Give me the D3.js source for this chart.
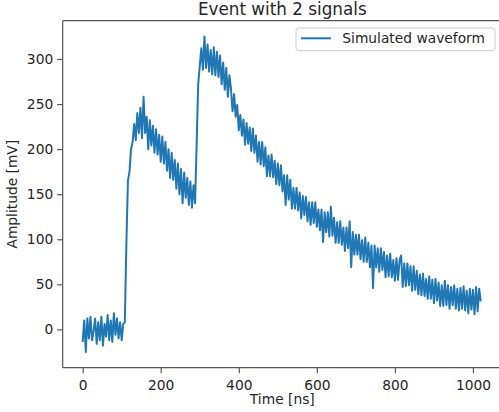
<!DOCTYPE html>
<html>
  <head>
    <title>Event with 2 signals</title>
    <meta charset="utf-8">
    <style>
      body { margin: 0; background: white; }
      svg text { font-family: "DejaVu Sans", sans-serif; fill: #262626; }
      .axis path, .axis line { stroke: #555; stroke-width: 1.2; }
      .axis text { font-size: 13.8px; }
    </style>
  </head>
  <body>
  <svg id="chart"></svg>
  <script src="https://d3js.org/d3.v7.min.js"></script>
  <script>
    // sampling step of the waveform (ns)
    var step = 4;

    // amplitude in mV, one value every 4 ns starting at t = 0
    var baseline = [-14, 10, -25, 12, -10, 14, -12, -2, 12, -16, 8, -12, 14, -18, 6, -8,
      16, -12, 10, -14, 18, -6, 12, -10, 8, -12, 6];
    var firstPulse = [8, 95, 165, 175, 200, 208, 228, 210, 240, 218, 246, 212, 258, 218,
      236, 200, 232, 204, 226, 196, 222, 194, 216, 186, 214, 184, 208, 176, 200, 168,
      196, 166, 188, 156, 184, 150, 178, 140, 174, 146, 168, 138, 164, 135, 160, 140];
    var secondPulse = [205, 272, 292, 312, 288, 325, 290, 316, 286, 310, 283, 313, 282,
      308, 280, 304, 272, 296, 266, 290, 258, 282,
      267, 242, 261, 236, 249, 221, 238, 215, 233, 205, 229, 206, 224, 198, 223, 196,
      215, 186, 208, 183, 208, 181, 202, 170, 193, 170, 194, 169, 187, 161, 184, 160,
      182, 153, 171, 138, 171, 144, 166, 134, 157, 134, 157, 132, 152, 123, 148, 127,
      147, 120, 141, 116, 141, 118, 141, 114, 133, 110, 133, 97, 130, 108, 130, 103,
      136, 104, 124, 96, 119, 96, 120, 94, 113, 87, 113, 90, 120, 69, 108, 83, 105, 83,
      105, 78, 99, 75, 102, 75, 96, 69, 93, 46, 93, 69, 90, 64, 90, 66, 86, 58, 82, 59,
      84, 58, 77, 54, 79, 55, 77, 82, 47, 73, 48, 73, 49, 70, 43, 70, 44, 65, 39, 61,
      38, 62, 37, 56, 34, 59, 34, 55, 29, 56, 32, 52, 26, 49, 26, 54, 27, 49, 23, 47,
      27, 49, 23, 45, 21, 46, 23, 48, 21, 43, 18, 45, 22, 44, 17, 47, 20, 45, 31];

    var amplitude = baseline.concat(firstPulse, secondPulse);
    var data = amplitude.map(function(v, i) { return [i * step, v]; });

    var xTicks = [0, 200, 400, 600, 800, 1000];
    var yTicks = [0, 50, 100, 150, 200, 250, 300];

    var W = 499, H = 412;
    var margin = {top: 20.7, left: 62.7, bottom: 412 - 367.7};
    var plotRight = 501.9;

    var svg = d3.select("#chart").attr("width", W).attr("height", H);

    // matplotlib style 5% margins around data range
    var xMin = d3.min(data, function(d) { return d[0]; }), xMax = 1023;
    var yMin = d3.min(data, function(d) { return d[1]; }), yMax = d3.max(data, function(d) { return d[1]; });
    var xPad = (xMax - xMin) * 0.05, yPad = (yMax - yMin) * 0.05;

    var x = d3.scaleLinear()
      .domain([xMin - xPad, xMax + xPad])
      .range([margin.left, plotRight]);

    var y = d3.scaleLinear()
      .domain([yMin - yPad, yMax + yPad])
      .range([H - margin.bottom, margin.top]);

    // waveform
    var line = d3.line()
      .x(function(d) { return x(d[0]); })
      .y(function(d) { return y(d[1]); });

    svg.append("path")
      .datum(data)
      .attr("fill", "none")
      .attr("stroke", "#1f77b4")
      .attr("stroke-width", 2)
      .attr("stroke-linejoin", "round")
      .attr("d", line);

    // axes
    var xAxis = d3.axisBottom(x).tickValues(xTicks).tickFormat(d3.format("d"))
      .tickSize(5.5).tickPadding(4).tickSizeOuter(0);
    var yAxis = d3.axisLeft(y).tickValues(yTicks).tickFormat(d3.format("d"))
      .tickSize(5.5).tickPadding(4).tickSizeOuter(0);

    svg.append("g")
      .attr("class", "x axis")
      .attr("transform", "translate(0," + (H - margin.bottom) + ")")
      .call(xAxis)
      .select(".domain").attr("d", "M" + margin.left + ",0H" + plotRight);

    svg.append("g")
      .attr("class", "y axis")
      .attr("transform", "translate(" + margin.left + ",0)")
      .call(yAxis)
      .select(".domain").attr("d", "M0," + (H - margin.bottom) + "V" + margin.top);

    // top and right spines
    svg.append("line")
      .attr("x1", margin.left).attr("x2", plotRight)
      .attr("y1", margin.top).attr("y2", margin.top)
      .attr("stroke", "#555").attr("stroke-width", 1.2);
    svg.append("line")
      .attr("x1", plotRight).attr("x2", plotRight)
      .attr("y1", margin.top).attr("y2", H - margin.bottom)
      .attr("stroke", "#555").attr("stroke-width", 1.2);

    svg.selectAll(".x.axis .tick text").attr("dy", "0.95em");

    // title and labels
    svg.append("text")
      .attr("x", (margin.left + plotRight) / 2)
      .attr("y", 15)
      .attr("text-anchor", "middle")
      .style("font-size", "16.8px")
      .text("Event with 2 signals");

    svg.append("text")
      .attr("x", (margin.left + plotRight) / 2)
      .attr("y", 404)
      .attr("text-anchor", "middle")
      .style("font-size", "13.8px")
      .text("Time [ns]");

    svg.append("text")
      .attr("transform", "translate(17," + ((margin.top + H - margin.bottom) / 2) + ") rotate(-90)")
      .attr("text-anchor", "middle")
      .style("font-size", "13.8px")
      .text("Amplitude [mV]");

    // legend
    var legend = svg.append("g").attr("class", "legend");
    legend.append("rect")
      .attr("x", 296).attr("y", 28)
      .attr("width", 199).attr("height", 22.7)
      .attr("rx", 2.5)
      .attr("fill", "white").attr("fill-opacity", 0.8)
      .attr("stroke", "#cccccc").attr("stroke-width", 1);
    legend.append("line")
      .attr("x1", 301).attr("x2", 331)
      .attr("y1", 38.3).attr("y2", 38.3)
      .attr("stroke", "#1f77b4").attr("stroke-width", 2);
    legend.append("text")
      .attr("x", 342.3).attr("y", 43.3)
      .style("font-size", "13.8px")
      .text("Simulated waveform");
  </script>
  </body>
</html>
